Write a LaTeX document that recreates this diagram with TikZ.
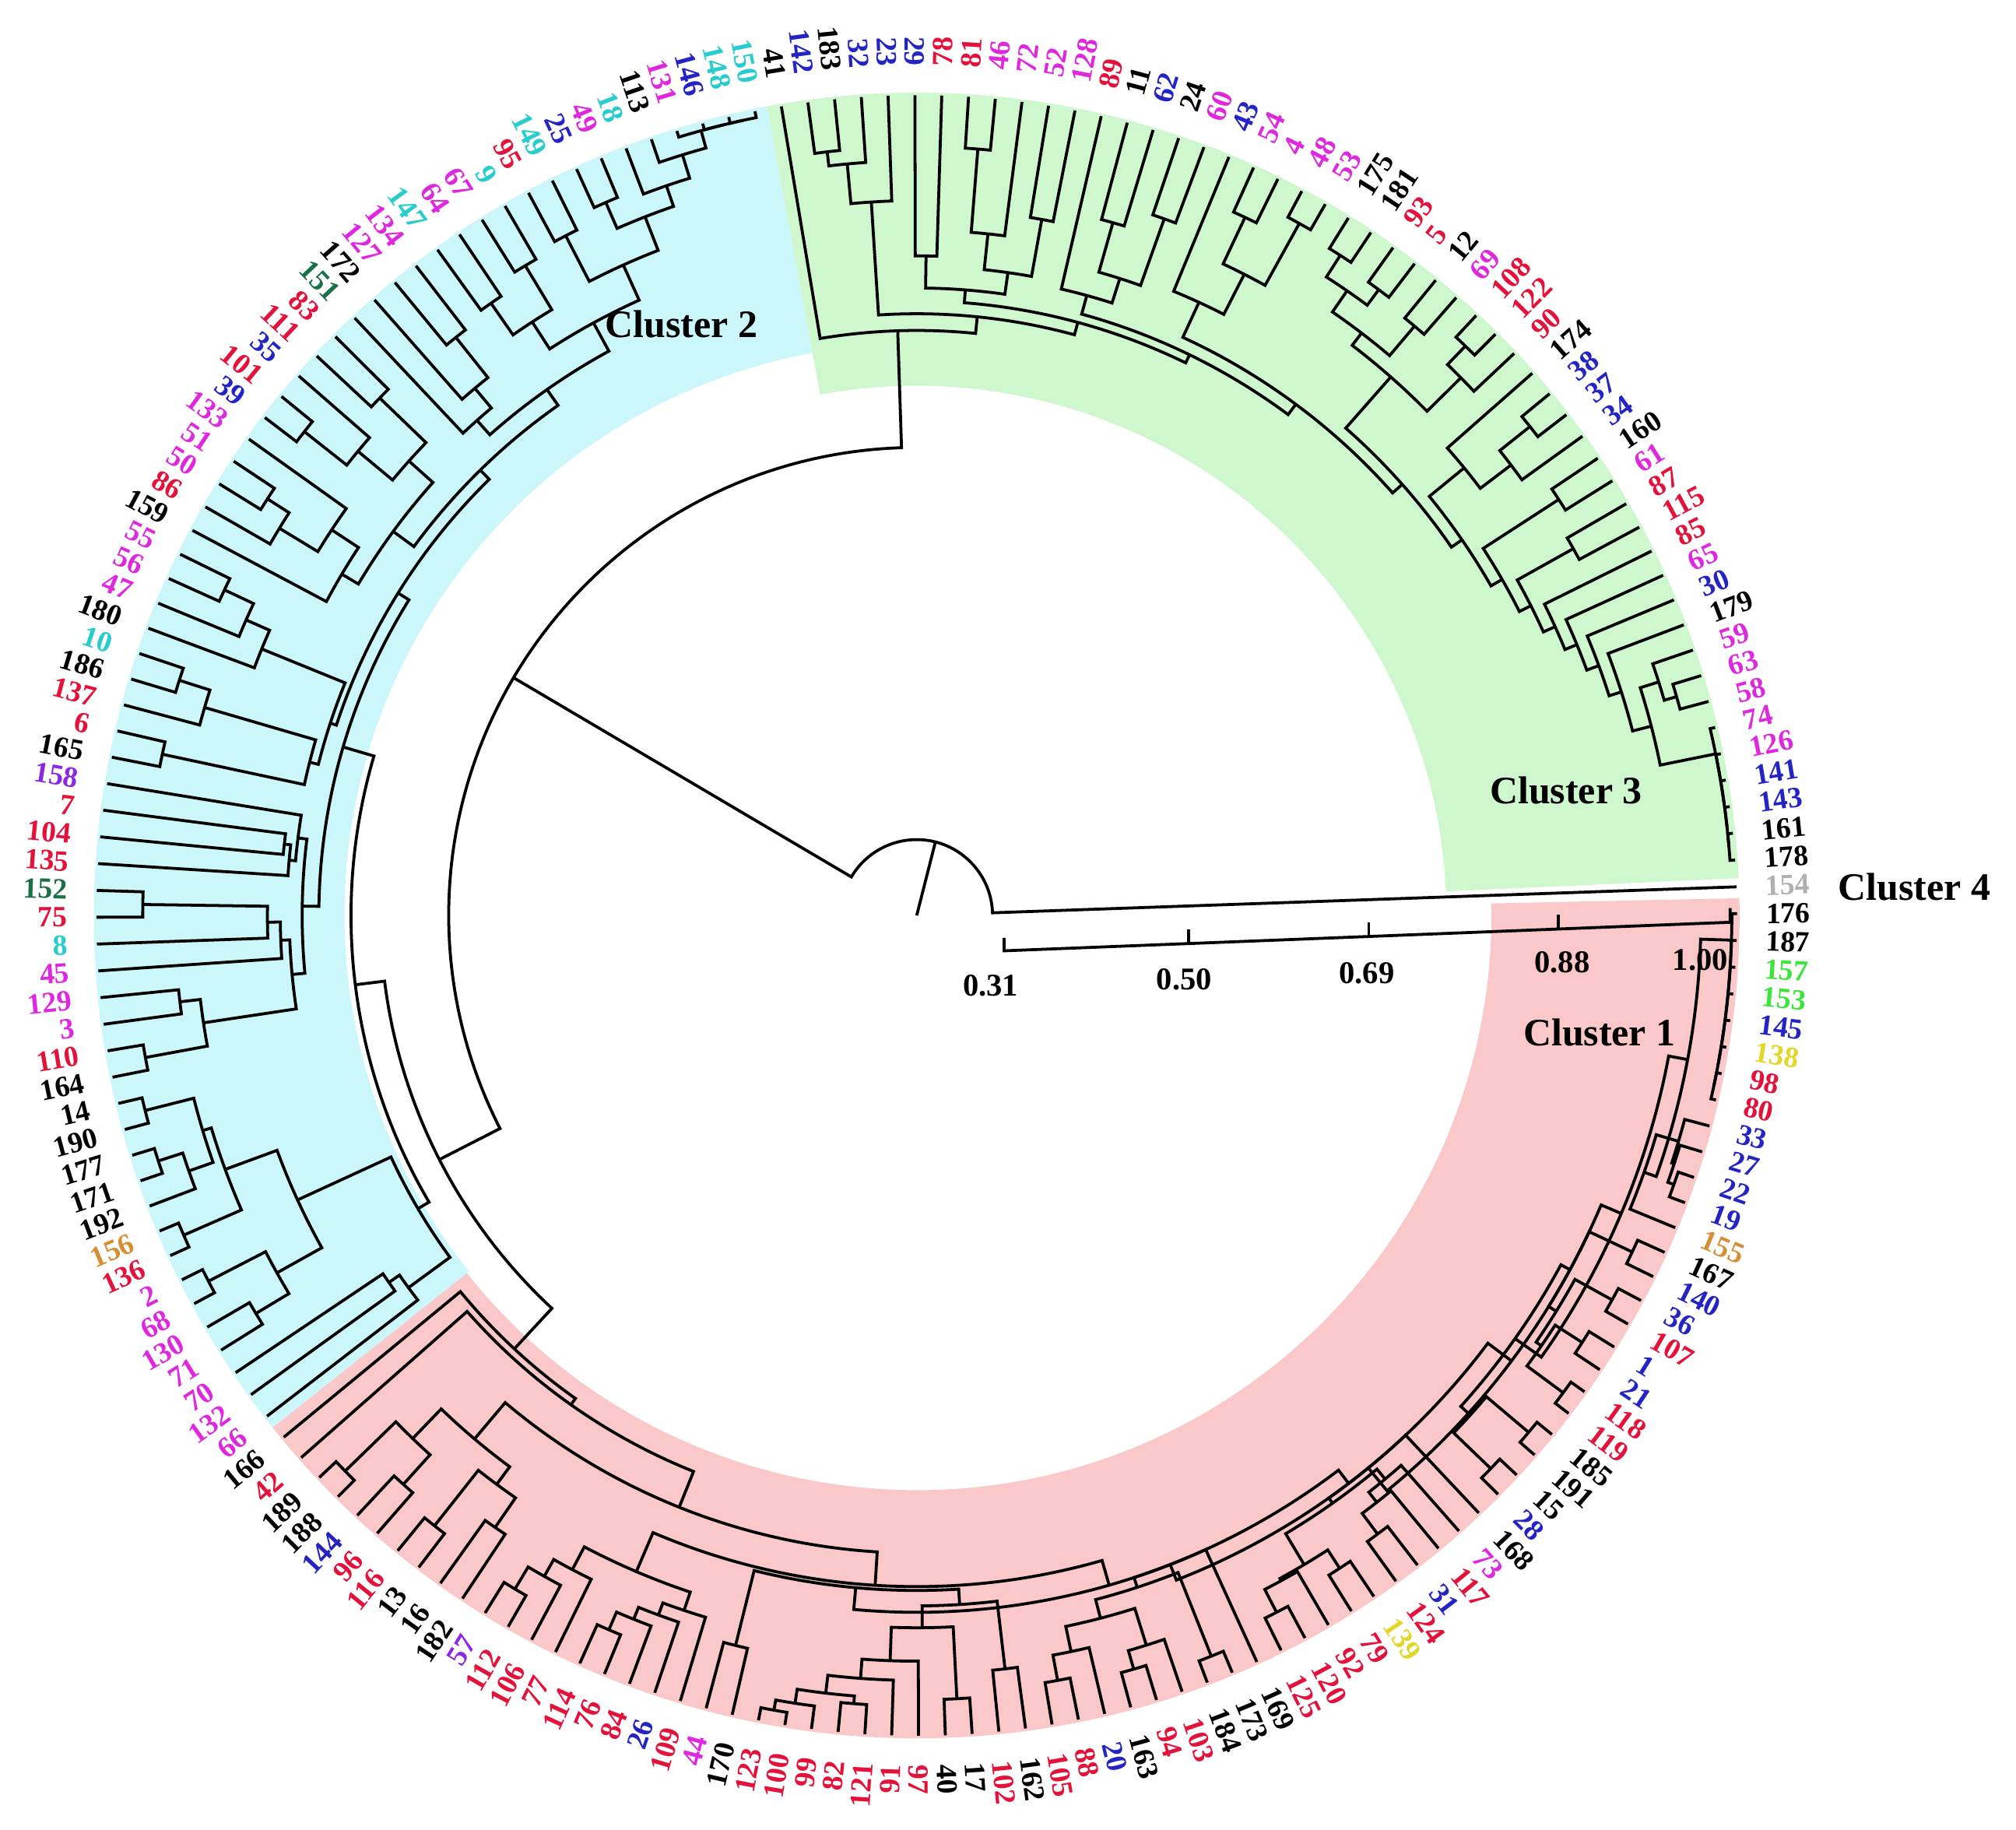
\documentclass[tikz,border=0pt]{standalone}
\usepackage{fontspec}
\setmainfont{Liberation Serif}
\usepackage{tikz}

\definecolor{cK}{RGB}{0,0,0}
\definecolor{cR}{RGB}{226,18,58}
\definecolor{cM}{RGB}{222,40,222}
\definecolor{cB}{RGB}{36,36,196}
\definecolor{cC}{RGB}{40,204,204}
\definecolor{cDG}{RGB}{28,112,72}
\definecolor{cLG}{RGB}{60,228,60}
\definecolor{cY}{RGB}{226,214,40}
\definecolor{cO}{RGB}{214,142,52}
\definecolor{cG}{RGB}{176,176,176}
\definecolor{cP}{RGB}{140,40,228}
\definecolor{fillA}{RGB}{250,200,200}
\definecolor{fillB}{RGB}{204,247,250}
\definecolor{fillC}{RGB}{206,247,206}

% leaf angle and radius
\newcommand\setleaf[2]{%
  \expandafter\xdef\csname dA@L#1\endcsname{#2}%
  \expandafter\xdef\csname dR@L#1\endcsname{63.8}}
% join two branches at a radius
\newcommand\mg[4]{%
  \edef\mgA{\csname dA@#2\endcsname}\edef\mgRa{\csname dR@#2\endcsname}%
  \edef\mgB{\csname dA@#3\endcsname}\edef\mgRb{\csname dR@#3\endcsname}%
  \pgfmathsetmacro\mgM{(\mgA+\mgB)/2}%
  \expandafter\xdef\csname dA@#1\endcsname{\mgM}%
  \expandafter\xdef\csname dR@#1\endcsname{#4}%
  \draw[branch] (\mgA:\mgRa) -- (\mgA:#4)
    arc[start angle=\mgA, end angle=\mgB, radius=#4mm] -- (\mgB:\mgRb);
  \coordinate (#1) at (\mgM:#4);}
\newcommand\clusterband[4]{%
  \fill[#1] (#2:#4) arc[start angle=#2, end angle=#3, radius=#4mm]
    -- (#3:64) arc[start angle=#3, end angle=#2, radius=64mm] -- cycle;}

\begin{document}
\begin{tikzpicture}[x=1mm, y=1mm,
  branch/.style={line width=0.65pt},
  leaflab/.style={font=\fontsize{6.5}{7}\selectfont\bfseries, inner sep=0pt},
  scalelab/.style={font=\fontsize{7}{8}\selectfont\bfseries, inner sep=1pt},
  clusterlab/.style={font=\fontsize{8.6}{10}\selectfont\bfseries, inner sep=1pt}]

  \useasboundingbox (-71.3,-71.1) rectangle (85.5,71.2);

  % coloured bands behind the clusters
  \clusterband{fillC}{2.6}{100.5}{41.2}
  \clusterband{fillB}{100.5}{218.5}{44.5}
  \clusterband{fillA}{218.5}{361.2}{44.7}

  % leaves, anticlockwise from 154
  \foreach \lab/\col [count=\i from 0] in {154/cG,178/cK,161/cK,143/cB,141/cB,126/cM,74/cM,58/cM,63/cM,59/cM,
    179/cK,30/cB,65/cM,85/cR,115/cR,87/cR,61/cM,160/cK,34/cB,37/cB,
    38/cB,174/cK,90/cR,122/cR,108/cR,69/cM,12/cK,5/cR,93/cR,181/cK,
    175/cK,53/cM,48/cM,4/cM,54/cM,43/cB,60/cM,24/cK,62/cB,11/cK,
    89/cR,128/cM,52/cM,72/cM,46/cM,81/cR,78/cR,29/cB,23/cB,32/cB,
    183/cK,142/cB,41/cK,
    150/cC,148/cC,146/cB,131/cM,113/cK,18/cC,49/cM,25/cB,149/cC,95/cR,
    9/cC,67/cM,64/cM,147/cC,134/cM,127/cM,172/cK,151/cDG,83/cR,111/cR,
    35/cB,101/cR,39/cB,133/cM,51/cM,50/cM,86/cR,159/cK,55/cM,56/cM,
    47/cM,180/cK,10/cC,186/cK,137/cR,6/cR,165/cK,158/cP,7/cR,104/cR,
    135/cR,152/cDG,75/cR,8/cC,45/cM,129/cM,3/cM,110/cR,164/cK,14/cK,
    190/cK,177/cK,171/cK,192/cK,156/cO,136/cR,2/cM,68/cM,130/cM,71/cM,
    70/cM,132/cM,66/cM,
    166/cK,42/cR,189/cK,188/cK,144/cB,96/cR,116/cR,13/cK,16/cK,182/cK,
    57/cP,112/cR,106/cR,77/cR,114/cR,76/cR,84/cR,26/cB,109/cR,44/cM,
    170/cK,123/cR,100/cR,99/cR,82/cR,121/cR,91/cR,97/cR,40/cK,17/cK,
    102/cR,162/cK,105/cR,88/cR,20/cB,163/cK,94/cR,103/cR,184/cK,173/cK,
    169/cK,125/cR,120/cR,92/cR,79/cR,139/cY,124/cR,31/cB,117/cR,73/cM,
    168/cK,28/cB,15/cK,191/cK,185/cK,119/cR,118/cR,21/cB,1/cB,107/cR,
    36/cB,140/cB,167/cK,155/cO,19/cB,22/cB,27/cB,33/cB,80/cR,98/cR,
    138/cY,145/cB,153/cLG,157/cLG,187/cK,176/cK}{
    \pgfmathsetmacro\ang{2+\i*1.875}
    \setleaf{\i}{\ang}
    \coordinate (L\i) at (\ang:63.8);
    \ifdim\ang pt>90pt
      \ifdim\ang pt<270pt
        \node[leaflab, text=\col, rotate=\ang-180, anchor=east] (lab\lab) at (\ang:66) {\lab};
      \else
        \node[leaflab, text=\col, rotate=\ang, anchor=west] (lab\lab) at (\ang:66) {\lab};
      \fi
    \else
      \node[leaflab, text=\col, rotate=\ang, anchor=west] (lab\lab) at (\ang:66) {\lab};
    \fi
  }

  % Cluster 3
  \mg{a1}{L1}{L2}{63.4}  \mg{a2}{a1}{L3}{63.4}  \mg{a3}{a2}{L4}{63.4}
  \mg{a4}{a3}{L5}{63.4}  \mg{a5}{a4}{L6}{63.4}
  \mg{b1}{L7}{L8}{61.5}  \mg{b2}{b1}{L9}{60.5}  \mg{b3}{a5}{b2}{59.0}
  \mg{b4}{b3}{L10}{57.5} \mg{b5}{b4}{L11}{56.5} \mg{b6}{b5}{L12}{55.5}
  \mg{b7}{b6}{L13}{54.5} \mg{b8}{L14}{L15}{58.5} \mg{b9}{b7}{b8}{53.5}
  \mg{b10}{L16}{L17}{59.5} \mg{b11}{b9}{b10}{52.5}
  \mg{b12}{L19}{L20}{61.0} \mg{b13}{b12}{L18}{58.0} \mg{b14}{b13}{L21}{55.0}
  \mg{b15}{b11}{b14}{51.5}
  \mg{k1}{L29}{L30}{61.0} \mg{k2}{L27}{L28}{60.5} \mg{k3}{k2}{k1}{59.0}
  \mg{k4}{L25}{L26}{60.0} \mg{k5}{k4}{k3}{57.0}
  \mg{k6}{L23}{L24}{61.5} \mg{k7}{L22}{k6}{59.5} \mg{k8}{k7}{k5}{55.8}
  \mg{k9}{b15}{k8}{50.5}
  \mg{m1}{L31}{L32}{61.5} \mg{m2}{L33}{L34}{60.0} \mg{m3}{m1}{m2}{56.0}
  \mg{m4}{m3}{L35}{52.5} \mg{m5}{k9}{m4}{49.5}
  \mg{o1}{L36}{L37}{57.5} \mg{o2}{L38}{L39}{56.0} \mg{o3}{o1}{o2}{52.0}
  \mg{o4}{o3}{L40}{50.0} \mg{o5}{m5}{o4}{48.5}
  \mg{q1}{L44}{L45}{59.8} \mg{q2}{L43}{q1}{53.3} \mg{q3}{L41}{L42}{55.0}
  \mg{q4}{q3}{q2}{50.5} \mg{q5}{L46}{L47}{51.3} \mg{q6}{q4}{q5}{48.8}
  \mg{q7}{o5}{q6}{47.8}
  \mg{t1}{L50}{L51}{59.8} \mg{t2}{L49}{t1}{58.7} \mg{t3}{L48}{t2}{55.6}
  \mg{t4}{q7}{t3}{46.8} \mg{t5}{t4}{L52}{45.5}

  % Cluster 2
  \mg{u1}{L53}{L54}{63.3} \mg{u2}{u1}{L55}{63.3} \mg{u3}{u2}{L56}{63.3}
  \mg{u4}{u3}{L57}{61.9} \mg{u5}{u4}{L58}{60.0} \mg{u6}{L59}{L60}{60.5}
  \mg{u7}{u5}{u6}{58.3} \mg{u8}{L61}{L62}{59.5} \mg{u9}{u7}{u8}{55.5}
  \mg{v1}{L63}{L64}{59.0} \mg{v2}{L65}{L66}{58.0} \mg{v3}{v1}{v2}{55.0}
  \mg{v4}{u9}{v3}{52.5}
  \mg{v5}{L67}{L68}{57.5} \mg{v6}{v5}{L69}{53.5} \mg{v7}{v6}{L70}{51.5}
  \mg{v8}{v4}{v7}{50.0}
  \mg{x1}{L71}{L72}{58.0} \mg{x2}{L74}{L75}{60.7} \mg{x3}{L73}{x2}{56.5}
  \mg{x4}{x1}{x3}{53.0}
  \mg{x5}{L77}{L78}{60.0} \mg{x6}{x5}{L79}{58.0} \mg{x7}{L76}{x6}{54.5}
  \mg{x8}{x7}{L80}{52.0} \mg{x9}{x4}{x8}{50.5}
  \mg{y1}{L81}{L82}{59.5} \mg{y2}{y1}{L83}{57.0} \mg{y3}{y2}{L84}{55.0}
  \mg{z1}{L85}{L86}{60.2} \mg{z2}{z1}{L87}{57.7} \mg{z3}{L88}{L89}{60.0}
  \mg{z4}{z2}{z3}{48.7} \mg{z5}{y3}{z4}{48.0}
  \mg{s1}{L91}{L92}{49.5} \mg{s2}{s1}{L93}{49.0} \mg{s3}{L90}{s2}{48.5}
  \mg{s4}{L94}{L95}{60.2} \mg{s5}{s4}{L96}{50.5} \mg{s6}{s5}{L97}{49.5}
  \mg{s7}{L98}{L99}{57.7} \mg{s8}{L100}{L101}{61.0} \mg{s9}{s7}{s8}{56.1}
  \mg{s10}{s6}{s9}{48.8} \mg{s11}{s3}{s10}{47.8}
  \mg{w1}{v8}{x9}{48.5} \mg{w2}{w1}{z5}{47.5} \mg{w3}{w2}{s11}{46.5}
  \mg{e1}{L102}{L103}{61.9} \mg{e2}{L104}{L105}{62.0} \mg{e3}{e2}{L106}{60.0}
  \mg{e4}{e1}{e3}{58.0} \mg{e5}{L107}{L108}{62.2} \mg{e6}{e4}{e5}{57.3}
  \mg{e7}{L109}{L110}{62.0} \mg{e8}{L111}{L112}{60.0} \mg{e9}{e7}{e8}{57.0}
  \mg{e10}{e6}{e9}{53.0}
  \mg{d1}{L113}{L114}{50.0} \mg{d2}{d1}{L115}{49.0} \mg{d3}{e10}{d2}{45.0}
  \mg{c2}{w3}{d3}{44.0}

  % Cluster 1
  \mg{g1}{L118}{L119}{62.0} \mg{g2}{L120}{L121}{59.6} \mg{g3}{g1}{g2}{56.5}
  \mg{g4}{L122}{L123}{60.5} \mg{g5}{L124}{L125}{57.8} \mg{g6}{g4}{g5}{55.0}
  \mg{g7}{g3}{g6}{53.3}
  \mg{h1}{L126}{L127}{61.0} \mg{h2}{h1}{L128}{59.0} \mg{h3}{h2}{L129}{57.5}
  \mg{h4}{L130}{L131}{60.5} \mg{h5}{h4}{L132}{59.0} \mg{h6}{h5}{L133}{58.0}
  \mg{h7}{h6}{L134}{57.0} \mg{h8}{h3}{h7}{55.5}
  \mg{p1}{L137}{L138}{62.8} \mg{p2}{p1}{L139}{62.0} \mg{p3}{L140}{L141}{61.5}
  \mg{p4}{p2}{p3}{60.9} \mg{p5}{p4}{L142}{59.5} \mg{p6}{p5}{L143}{58.0}
  \mg{p7}{L144}{L145}{61.0} \mg{p8}{p6}{p7}{55.4} \mg{p9}{L146}{L147}{59.0}
  \mg{p10}{p8}{p9}{53.7} \mg{p11}{L135}{L136}{58.5} \mg{p12}{p11}{p10}{52.5}
  \mg{r1}{L148}{L149}{60.5} \mg{r2}{r1}{L150}{58.5} \mg{r3}{L151}{L152}{61.0}
  \mg{r4}{r3}{L153}{59.5} \mg{r5}{r2}{r4}{56.5} \mg{r6}{L154}{L155}{62.0}
  \mg{r7}{r5}{r6}{55.0} \mg{r8}{r7}{L156}{54.2}
  \mg{f1}{L157}{L158}{61.0} \mg{f2}{f1}{L159}{59.0} \mg{f3}{L160}{L161}{60.5}
  \mg{f4}{f2}{f3}{58.8} \mg{f5}{L162}{L163}{60.0} \mg{f6}{f5}{L164}{58.0}
  \mg{f7}{f6}{L165}{57.0} \mg{f8}{f4}{f7}{56.0} \mg{f9}{f8}{L166}{55.5}
  \mg{j1}{L167}{L168}{62.0} \mg{j2}{L169}{L170}{62.3} \mg{j3}{j1}{j2}{58.0}
  \mg{j4}{L171}{L172}{62.5} \mg{j5}{L173}{L174}{61.5} \mg{j6}{j4}{j5}{59.0}
  \mg{j7}{L175}{L176}{61.8} \mg{j8}{j6}{j7}{58.5} \mg{j9}{L177}{L178}{61.5}
  \mg{j10}{j8}{j9}{57.8} \mg{j11}{j3}{j10}{57.0}
  \mg{n1}{L180}{L181}{62.5} \mg{n2}{n1}{L182}{62.0} \mg{n3}{n2}{L183}{61.8}
  \mg{n4}{L179}{n3}{60.0}
  \mg{n5}{L184}{L185}{63.4} \mg{n6}{n5}{L186}{63.4} \mg{n7}{n6}{L187}{63.4}
  \mg{n8}{n7}{L188}{63.4} \mg{n9}{n8}{L189}{63.4} \mg{n10}{n9}{L190}{63.4}
  \mg{n11}{n10}{L191}{63.4} \mg{n12}{n4}{n11}{61.0}
  \mg{bb1}{j11}{n12}{59.5} \mg{bb2}{f9}{bb1}{57.8} \mg{bb3}{r8}{bb2}{55.5}
  \mg{bb4}{p12}{bb3}{54.2} \mg{bb5}{h8}{bb4}{52.2} \mg{bb6}{g7}{bb5}{49.6}
  \mg{bb7}{L117}{bb6}{46.6} \mg{c1}{L116}{bb7}{46.0}

  % top of the tree
  \mg{yy}{c2}{c1}{41.7}
  \mg{xx}{t5}{yy}{36.4}
  \mg{root}{L0}{xx}{5.9}
  \coordinate (ctr) at (0,0);
  \draw[branch] (ctr) -- (root);

  % similarity scale
  \coordinate (s31) at (6.8,-2.75);
  \coordinate (s50) at (21.16,-2.19);
  \coordinate (s69) at (35.16,-1.64);
  \coordinate (s88) at (49.9,-1.06);
  \coordinate (s100) at (63.26,-0.53);
  \draw[branch] (s31) ++(0,1.0) -- (s31) -- (s100) -- ++(0,1.1);
  \foreach \t in {s50,s69,s88} \draw[branch] (\t) -- ++(0,1.1);
  \node[scalelab] (v31) at (5.75,-5.47) {0.31};
  \node[scalelab] (v50) at (20.8,-4.97) {0.50};
  \node[scalelab] (v69) at (35.0,-4.47) {0.69};
  \node[scalelab] (v88) at (50.2,-3.66) {0.88};
  \node[scalelab] (v100) at (60.95,-3.46) {1.00};

  \node[clusterlab] (cl1) at (53.1,-9.1) {Cluster 1};
  \node[clusterlab] (cl2) at (-18.3,46.0) {Cluster 2};
  \node[clusterlab] (cl3) at (50.5,9.7) {Cluster 3};
  \node[clusterlab] (cl4) at (77.6,2.2) {Cluster 4};
\end{tikzpicture}
\end{document}
